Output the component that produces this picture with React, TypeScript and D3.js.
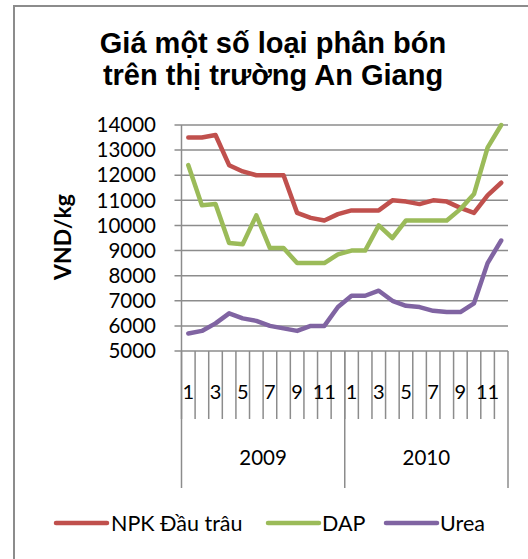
import React from 'react'
import * as d3 from 'd3'

const years = ['2009', '2010']
const months = ['1', '2', '3', '4', '5', '6', '7', '8', '9', '10', '11', '12']
const yTicks = [5000, 6000, 7000, 8000, 9000, 10000, 11000, 12000, 13000, 14000]

const npk = [13500, 13500, 13600, 12400, 12150, 12000, 12000, 12000, 10500, 10300, 10200, 10450,
  10600, 10600, 10600, 11000, 10950, 10850, 11000, 10950, 10700, 10500, 11200, 11700]
const dap = [12400, 10800, 10850, 9300, 9250, 10400, 9100, 9100, 8500, 8500, 8500, 8850,
  9000, 9000, 10000, 9500, 10200, 10200, 10200, 10200, 10650, 11250, 13100, 14000]
const urea = [5700, 5800, 6100, 6500, 6300, 6200, 6000, 5900, 5800, 6000, 6000, 6750,
  7200, 7200, 7400, 7000, 6800, 6750, 6600, 6550, 6550, 6900, 8500, 9400]

const series = [
  {name: 'NPK Đầu trâu', values: npk, color: '#C0504D'},
  {name: 'DAP', values: dap, color: '#9BBB59'},
  {name: 'Urea', values: urea, color: '#8064A2'},
]

const FONT = 'Lato, "Open Sans", sans-serif'
const TITLE_FONT = '"Liberation Sans", Arial, sans-serif'

export default function App() {
  const width = 528
  const height = 559
  const margin = {top: 125, right: 20, bottom: 208, left: 181.5}

  const cats = years.flatMap(y => months.map(m => `${y}-${m}`))

  const x = d3.scaleBand()
    .domain(cats)
    .range([margin.left, width - margin.right])

  const y = d3.scaleLinear()
    .domain([5000, 14000])
    .range([height - margin.bottom, margin.top])

  const line = d3.line<number>()
    .x((d, i) => x(cats[i])! + x.bandwidth() / 2)
    .y(d => y(d))

  const y0 = y(5000)
  const x0 = margin.left
  const x1 = width - margin.right
  const yearW = x.bandwidth() * months.length

  // legend swatch / text start positions
  const legendItems = [
    {lx: 56, tx: 111},
    {lx: 268, tx: 322},
    {lx: 386, tx: 440},
  ]

  return (
    <svg width={width} height={height}
      style={{position: 'absolute', left: 0, top: 0, background: '#fff'}}>
      <rect x={14} y={6} width={620} height={620} fill="#fff" stroke="#8c8c8c" strokeWidth={2} />

      <text x={273} y={53} textAnchor="middle" fontFamily={TITLE_FONT}
        fontWeight="bold" fontSize={29}>Giá một số loại phân bón</text>
      <text x={273} y={85} textAnchor="middle" fontFamily={TITLE_FONT}
        fontWeight="bold" fontSize={29}>trên thị trường An Giang</text>

      {/* gridlines + y ticks */}
      {yTicks.map(t => (
        <g key={t}>
          <line x1={x0 - 7} x2={x1} y1={y(t)} y2={y(t)} stroke="#8c8c8c" strokeWidth={1.5} />
          <text x={156} y={y(t)} dy="0.35em" textAnchor="end" fontFamily={FONT} fontSize={20.5}
            fill="#000">{t}</text>
        </g>
      ))}
      <line x1={x0} x2={x0} y1={margin.top} y2={y0} stroke="#8c8c8c" strokeWidth={1.5} />

      {/* category ticks */}
      {cats.map(c => (
        <line key={c} x1={x(c)!} x2={x(c)!} y1={y0} y2={419} stroke="#8c8c8c" strokeWidth={1.5} />
      ))}
      {cats.map((c, i) => i % 2 === 0 ? (
        <text key={'l' + c} x={x(c)! + x.bandwidth() / 2} y={392} dy="0.35em" textAnchor="middle"
          fontFamily={FONT} fontSize={20}>{months[i % 12]}</text>
      ) : null)}

      {/* year groups */}
      {[0, 1, 2].map(k => (
        <line key={'y' + k} x1={x0 + k * yearW} x2={x0 + k * yearW} y1={y0} y2={488}
          stroke="#8c8c8c" strokeWidth={1.5} />
      ))}
      {years.map((yr, k) => (
        <text key={yr} x={x0 + k * yearW + yearW / 2} y={458} dy="0.35em" textAnchor="middle"
          fontFamily={FONT} fontSize={20.5}>{yr}</text>
      ))}

      <text transform={`translate(63,237) rotate(-90)`} textAnchor="middle" dy="0.35em"
        fontFamily={FONT} fontWeight="bold" fontSize={23}>VND/kg</text>

      {series.map(s => (
        <path key={s.name} d={line(s.values)!} fill="none" stroke={s.color} strokeWidth={4.5}
          strokeLinejoin="round" strokeLinecap="round" />
      ))}

      {series.map((s, i) => (
        <g key={'lg' + s.name}>
          <line x1={legendItems[i].lx} x2={legendItems[i].lx + 51} y1={523} y2={523}
            stroke={s.color} strokeWidth={4.5} strokeLinecap="round" />
          <text x={legendItems[i].tx} y={523} dy="0.35em" fontFamily={FONT} fontSize={21.5}>{s.name}</text>
        </g>
      ))}
    </svg>
  )
}
